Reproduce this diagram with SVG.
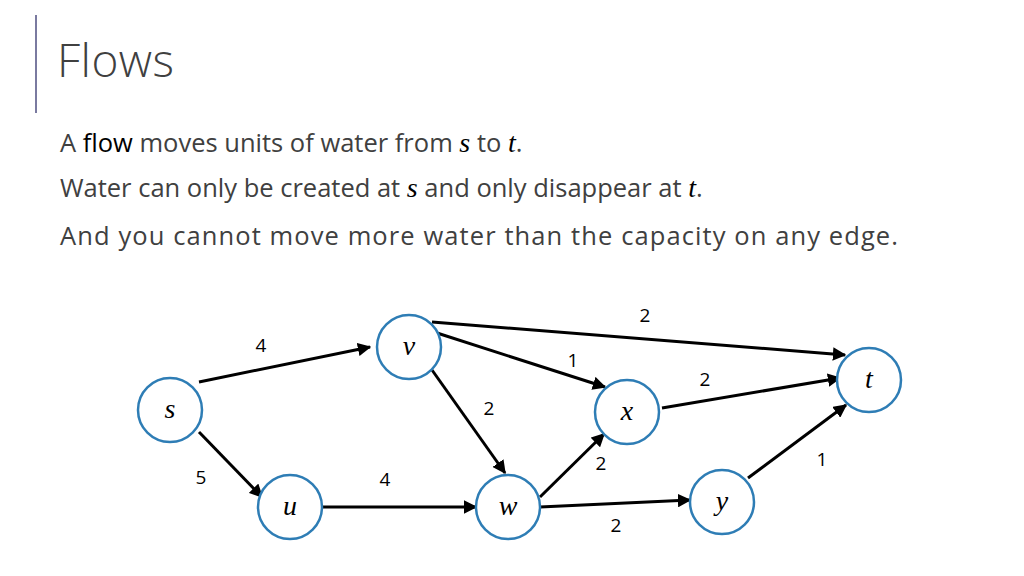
<svg xmlns="http://www.w3.org/2000/svg" width="1024" height="576" viewBox="0 0 1024 576">
<style>
.t{font-family:"Open Sans","Liberation Sans",sans-serif;fill:#404040}
.n circle{fill:#fff;stroke:#2e7db5;stroke-width:2.5}
.n text{font-family:"Liberation Serif",serif;font-style:italic;font-size:28px;fill:#000}
.m{font-family:"Liberation Serif",serif;font-style:italic;font-size:28px;fill:#000}
.e line{stroke:#000;stroke-width:3;marker-end:url(#a)}
.l{font-family:"Open Sans","Liberation Sans",sans-serif;font-size:19px;fill:#000;text-anchor:middle}
</style>
<defs><marker id="a" viewBox="0 0 10 10" refX="9" refY="5" markerWidth="4.5" markerHeight="4.5" orient="auto" markerUnits="strokeWidth"><path d="M0 0L10 5L0 10z" fill="#000"/></marker></defs>
<rect width="1024" height="576" fill="#fff"/>
<line x1="36" y1="15" x2="36" y2="113" stroke="#7a7aa0" stroke-width="2"/>
<text class="t" x="57" y="77" font-size="46" font-weight="300" textLength="117">Flows</text>
<text class="t" x="60" y="152" font-size="25.5">A <tspan fill="#000">flow</tspan> moves units of water from <tspan class="m">s</tspan> to <tspan class="m">t</tspan>.</text>
<text class="t" x="60" y="197" font-size="25.5">Water can only be created at <tspan class="m">s</tspan> and only disappear at <tspan class="m">t</tspan>.</text>
<text class="t" x="60" y="245" font-size="25.5" textLength="838">And you cannot move more water than the capacity on any edge.</text>
<g id="edges" class="e">
<line x1="199" y1="382" x2="370" y2="347"/>
<line x1="199" y1="432" x2="262" y2="497"/>
<line x1="432" y1="322" x2="845" y2="355"/>
<line x1="437" y1="333" x2="605" y2="387"/>
<line x1="432" y1="370" x2="505" y2="473"/>
<line x1="322" y1="507" x2="476" y2="507"/>
<line x1="540" y1="497" x2="604" y2="434"/>
<line x1="540" y1="507" x2="690" y2="500"/>
<line x1="662" y1="408" x2="840" y2="378"/>
<line x1="748" y1="478" x2="846" y2="405"/>
</g>
<g id="labels">
<text class="l" x="261" y="352">4</text>
<text class="l" x="201" y="484">5</text>
<text class="l" x="645" y="322">2</text>
<text class="l" x="573" y="367">1</text>
<text class="l" x="705" y="386">2</text>
<text class="l" x="489" y="415">2</text>
<text class="l" x="385" y="486">4</text>
<text class="l" x="601" y="470">2</text>
<text class="l" x="822" y="466">1</text>
<text class="l" x="616" y="532">2</text>
</g>
<g id="s" class="n"><circle cx="170" cy="410" r="32"/><text x="170" y="418" text-anchor="middle">s</text></g>
<g id="v" class="n"><circle cx="409" cy="347" r="32"/><text x="409" y="355" text-anchor="middle">v</text></g>
<g id="u" class="n"><circle cx="290" cy="507" r="32"/><text x="290" y="515" text-anchor="middle">u</text></g>
<g id="w" class="n"><circle cx="508" cy="507" r="32"/><text x="508" y="515" text-anchor="middle">w</text></g>
<g id="x" class="n"><circle cx="627" cy="412" r="32"/><text x="627" y="420" text-anchor="middle">x</text></g>
<g id="t" class="n"><circle cx="869" cy="380" r="32"/><text x="869" y="388" text-anchor="middle">t</text></g>
<g id="y" class="n"><circle cx="722" cy="502" r="32"/><text x="722" y="510" text-anchor="middle">y</text></g>
</svg>
